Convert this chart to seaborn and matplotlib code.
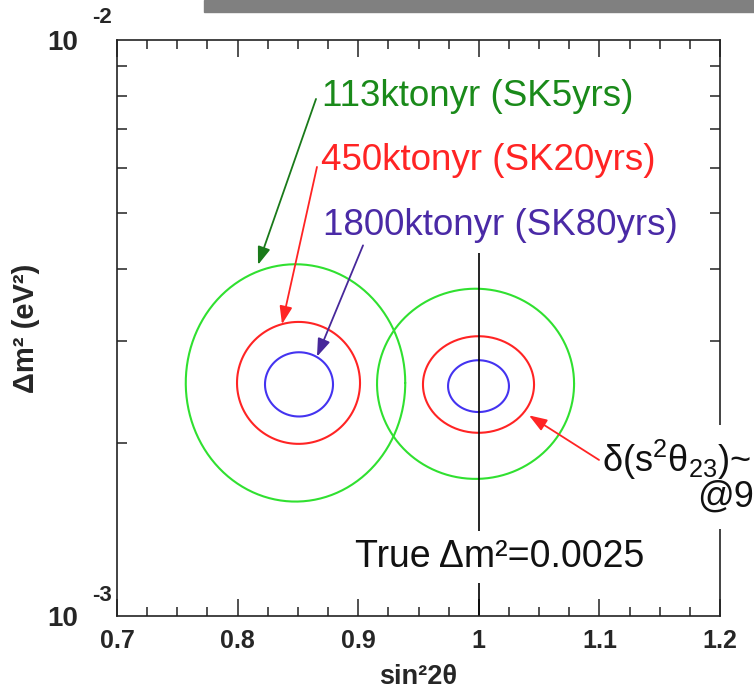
import numpy as np
import pandas as pd
import matplotlib
matplotlib.use("Agg")
import matplotlib.pyplot as plt
from matplotlib.patches import Rectangle
from matplotlib.ticker import FixedLocator, MultipleLocator, NullFormatter
import seaborn as sns

# Exposures and the extents of their allowed regions (90% CL)
exposures = ["113ktonyr (SK5yrs)", "450ktonyr (SK20yrs)", "1800ktonyr (SK80yrs)"]

# true sin^2(2theta) = 0.85 test point
low_sin2_min = [0.757, 0.7995, 0.8227]
low_sin2_max = [0.939, 0.9015, 0.8791]
low_dm2_min = [1.58e-3, 1.99e-3, 2.22e-3]
low_dm2_max = [4.08e-3, 3.24e-3, 2.87e-3]

# true sin^2(2theta) = 1.0 test point
max_sin2_min = [0.9156, 0.9537, 0.9745]
max_sin2_max = [1.079, 1.0458, 1.025]
max_dm2_min = [1.73e-3, 2.08e-3, 2.26e-3]
max_dm2_max = [3.70e-3, 3.06e-3, 2.78e-3]

true_sin2 = 1.0
true_dm2 = 0.0025
true_line_top = 4.27e-3

x_ticks = [0.7, 0.8, 0.9, 1.0, 1.1, 1.2]
x_tick_labels = ["0.7", "0.8", "0.9", "1", "1.1", "1.2"]
y_ticks = [1e-3, 1e-2]
y_exponents = ["-3", "-2"]

line_colors = ["#30e030", "#ff2424", "#4433f0"]
text_colors = ["#1a8a1a", "#ff2424", "#4a2aa6"]
arrow_colors = ["#1a7a1a", "#ff2424", "#47289a"]

# arrow tails and heads (sin2, dm2)
arrow_tail = [(0.865, 7.90e-3), (0.8658, 6.02e-3), (0.904, 4.40e-3)]
arrow_head = [(0.8169, 4.07e-3), (0.8368, 3.21e-3), (0.8658, 2.82e-3)]
label_pos = [(0.870, 7.68e-3), (0.869, 5.94e-3), (0.8708, 4.59e-3)]
delta_tail = (1.0997, 1.866e-3)
delta_head = (1.0416, 2.23e-3)


def contour_frame(sin_min, sin_max, dm_min, dm_max, tag):
    rows = []
    t = np.linspace(0, 2 * np.pi, 240)
    for i, name in enumerate(exposures):
        cx = 0.5 * (sin_min[i] + sin_max[i])
        rx = 0.5 * (sin_max[i] - sin_min[i])
        ly0, ly1 = np.log10(dm_min[i]), np.log10(dm_max[i])
        cy, ry = 0.5 * (ly0 + ly1), 0.5 * (ly1 - ly0)
        xs = cx + rx * np.cos(t)
        ys = 10 ** (cy + ry * np.sin(t))
        rows.append(pd.DataFrame({"sin2": xs, "dm2": ys, "exposure": name,
                                  "region": f"{tag}-{i}", "order": np.arange(len(t))}))
    return pd.concat(rows, ignore_index=True)


df = pd.concat([contour_frame(low_sin2_min, low_sin2_max, low_dm2_min, low_dm2_max, "low"),
                contour_frame(max_sin2_min, max_sin2_max, max_dm2_min, max_dm2_max, "max")],
               ignore_index=True)

sns.set_theme(style="ticks")
plt.rcParams["font.family"] = ["Liberation Sans", "DejaVu Sans"]
plt.rcParams["mathtext.fontset"] = "custom"
plt.rcParams["mathtext.rm"] = "Liberation Sans"
plt.rcParams["mathtext.it"] = "Liberation Sans"

fig = plt.figure(figsize=(7.54, 6.93), dpi=100)
fig.patch.set_facecolor("white")
ax = fig.add_axes([0.1552, 0.1111, 0.7997, 0.8312])
ax.set_yscale("log")
ax.set_xlim(0.7, 1.2)
ax.set_ylim(1e-3, 1e-2)

sns.lineplot(data=df, x="sin2", y="dm2", hue="exposure", units="region",
             estimator=None, sort=False, palette=dict(zip(exposures, line_colors)),
             linewidth=1.5, legend=False, ax=ax)

# true-value marker line, interrupted by its caption
ax.vlines(true_sin2, 1e-3, true_line_top, color="black", lw=1.2, zorder=2)
ax.text(1.0176, 1.266e-3, "True \u0394m\u00b2=" + f"{true_dm2:.4f}", fontsize=27,
        ha="center", va="center", color="#111111", zorder=4,
        bbox=dict(boxstyle="square,pad=0.22", fc="white", ec="none"))

for i, name in enumerate(exposures):
    ax.annotate("", xy=arrow_head[i], xytext=arrow_tail[i],
                arrowprops=dict(arrowstyle="-|>,head_length=0.9,head_width=0.32",
                                color=arrow_colors[i], lw=1.3, shrinkA=0, shrinkB=0,
                                mutation_scale=12))
    ax.text(label_pos[i][0], label_pos[i][1], name, fontsize=26.5,
            color=text_colors[i], ha="left", va="baseline")

ax.annotate("", xy=delta_head, xytext=delta_tail,
            arrowprops=dict(arrowstyle="-|>,head_length=0.9,head_width=0.32",
                            color="#ff2424", lw=1.3, shrinkA=0, shrinkB=0,
                            mutation_scale=12))

# white backing behind the resolution caption, which breaks the right frame edge
ax.add_patch(Rectangle((0.955, 0.151), 0.1, 0.181, transform=ax.transAxes,
                       facecolor="white", edgecolor="none", zorder=2.6,
                       clip_on=False))
ax.text(1.1025, 1.867e-3, "\u03b4(s$^2$\u03b8$_{23}$)~", fontsize=26, ha="left",
        va="center", color="#111111", zorder=4, clip_on=False)
ax.text(1.181, 1.609e-3, "@9", fontsize=26, ha="left", va="center",
        color="#111111", zorder=4, clip_on=False)

# axes styling
ax.xaxis.set_major_locator(FixedLocator(x_ticks))
ax.set_xticklabels(x_tick_labels)
ax.xaxis.set_minor_locator(MultipleLocator(0.025))
ax.yaxis.set_major_locator(FixedLocator(y_ticks))
ax.set_yticklabels(["10"] * len(y_ticks))
ax.yaxis.set_minor_locator(FixedLocator([k * 1e-3 for k in range(2, 10)]))
ax.yaxis.set_minor_formatter(NullFormatter())

ax.tick_params(which="both", direction="in", top=True, right=True,
               width=1.1, color="#222222")
ax.tick_params(axis="x", which="major", length=12.5, pad=9, labelsize=18)
ax.tick_params(axis="x", which="minor", length=6.5)
ax.tick_params(axis="y", which="major", length=0, pad=28, labelsize=20)
ax.tick_params(axis="y", which="minor", length=7.5)
for lab in ax.get_xticklabels() + ax.get_yticklabels():
    lab.set_fontweight("bold")

for yv, ex in zip(y_ticks, y_exponents):
    dy = 15 if yv == 1e-3 else 16.5
    ax.annotate(ex, xy=(0, yv), xycoords=("axes fraction", "data"),
                xytext=(-11, dy), textcoords="offset points", fontsize=16,
                fontweight="bold", ha="center", va="center", annotation_clip=False)

for s in ax.spines.values():
    s.set_linewidth(1.2)
    s.set_color("#222222")

ax.set_xlabel("sin\u00b22\u03b8", fontsize=19.5, fontweight="bold")
ax.set_ylabel("\u0394m\u00b2 (eV\u00b2)", fontsize=21, fontweight="bold")
ax.xaxis.set_label_coords(0.5, -0.083)
ax.yaxis.set_label_coords(-0.128, 0.5)

# grey banner strip along the top edge
fig.patches.append(Rectangle((0.2706, 0.9827), 0.7294, 0.0173,
                             transform=fig.transFigure, color="#808080", zorder=0))

fig.savefig("out.png", dpi=100)
